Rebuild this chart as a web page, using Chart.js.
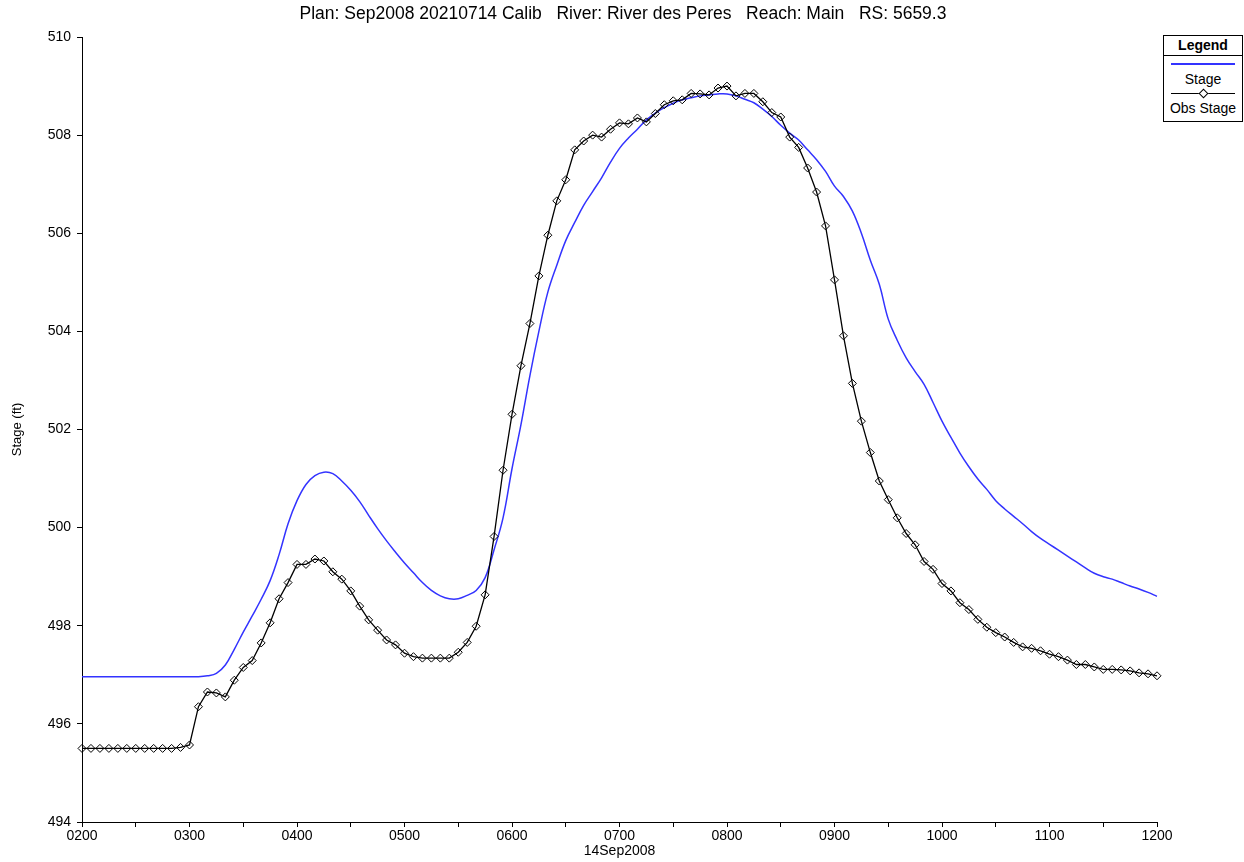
<!DOCTYPE html>
<html>
<head>
<meta charset="utf-8">
<title>Stage - River des Peres</title>
<script src="https://cdn.jsdelivr.net/npm/chart.js@4.4.1/dist/chart.umd.min.js"></script>
<style>
    html, body { margin: 0; padding: 0; background: #fff; }
    #wrap { position: relative; width: 1244px; height: 862px; font-family: "Liberation Sans", Arial, sans-serif; }
    #legendBox { position: absolute; left: 1163px; top: 35px; width: 78px; height: 85px; border: 1px solid #000; background: #fff; }
    #legendBox .hdr { position: absolute; left: 0; top: 1px; width: 78px; text-align: center; font-weight: bold; font-size: 14px; }
    #legendBox .sep { position: absolute; left: 0; top: 19px; width: 78px; border-top: 1px solid #000; }
    #legendBox .swatch { position: absolute; left: 7px; width: 64px; }
    #legendBox .lbl { position: absolute; left: 0; width: 78px; text-align: center; font-size: 14px; }
    #legendBox .dia { position: absolute; left: 36px; width: 5px; height: 5px; border: 1px solid #000; background: #fff; transform: rotate(45deg); }
</style>
</head>
<body>
<div id="wrap">
    <canvas id="stageChart" width="1244" height="862"></canvas>
    <div id="legendBox">
        <div class="hdr">Legend</div>
        <div class="sep"></div>
        <div class="swatch" style="top:27px;border-top:2px solid #3333ff;"></div>
        <div class="lbl" style="top:35px;">Stage</div>
        <div class="swatch" style="top:57px;border-top:1px solid #000;"></div>
        <div class="dia" style="top:54px;"></div>
        <div class="lbl" style="top:64px;">Obs Stage</div>
    </div>
</div>
<script>
const chartTitle = 'Plan: Sep2008 20210714 Calib   River: River des Peres   Reach: Main   RS: 5659.3';
const dateLabel = '14Sep2008';
const hourLabels = ['0200', '0300', '0400', '0500', '0600', '0700', '0800', '0900', '1000', '1100', '1200'];

// 5 minute readings, 0200 -> 1200
const obsStage = [
    495.50, 495.50, 495.50, 495.50, 495.50, 495.50, 495.50, 495.50, 495.50, 495.50, 495.50, 495.52,
    495.57, 496.35, 496.65, 496.63, 496.55, 496.89, 497.15, 497.29, 497.65, 498.06, 498.55, 498.88,
    499.25, 499.25, 499.36, 499.32, 499.10, 498.95, 498.71, 498.40, 498.12, 497.91, 497.71, 497.61,
    497.44, 497.37, 497.34, 497.34, 497.34, 497.34, 497.46, 497.66, 497.99, 498.63, 499.82, 501.17,
    502.31, 503.30, 504.16, 505.13, 505.96, 506.66, 507.09, 507.70, 507.88, 508.00, 507.96, 508.12,
    508.25, 508.23, 508.35, 508.27, 508.44, 508.62, 508.70, 508.72, 508.85, 508.84, 508.82, 508.96,
    509.00, 508.80, 508.85, 508.85, 508.68, 508.46, 508.37, 507.96, 507.75, 507.33, 506.84, 506.15,
    505.05, 503.91, 502.94, 502.17, 501.53, 500.95, 500.57, 500.20, 499.88, 499.65, 499.31, 499.15,
    498.86, 498.71, 498.47, 498.33, 498.13, 497.97, 497.86, 497.77, 497.66, 497.57, 497.54, 497.49,
    497.42, 497.37, 497.30, 497.21, 497.21, 497.16, 497.11, 497.11, 497.10, 497.08, 497.04, 497.02,
    496.98
];

const stage = [
    496.96, 496.96, 496.96, 496.96, 496.96, 496.96, 496.96, 496.96, 496.96, 496.96, 496.96, 496.96,
    496.96, 496.96, 496.98, 497.03, 497.20, 497.52, 497.87, 498.20, 498.54, 498.92, 499.45, 500.08,
    500.55, 500.88, 501.06, 501.13, 501.10, 500.95, 500.76, 500.53, 500.25, 499.98, 499.73, 499.50,
    499.28, 499.08, 498.88, 498.72, 498.61, 498.55, 498.55, 498.62, 498.72, 498.98, 499.55, 500.20,
    501.20, 502.10, 503.10, 504.00, 504.80, 505.35, 505.85, 506.22, 506.57, 506.85, 507.13, 507.45,
    507.73, 507.94, 508.12, 508.31, 508.45, 508.56, 508.65, 508.72, 508.76, 508.80, 508.82, 508.84,
    508.84, 508.80, 508.73, 508.66, 508.53, 508.38, 508.20, 508.04, 507.90, 507.70, 507.50, 507.26,
    506.96, 506.75, 506.45, 506.00, 505.45, 504.96, 504.25, 503.82, 503.46, 503.18, 502.92, 502.55,
    502.17, 501.84, 501.52, 501.24, 500.99, 500.78, 500.55, 500.38, 500.23, 500.08, 499.92, 499.78,
    499.66, 499.54, 499.42, 499.30, 499.18, 499.07, 499.00, 498.95, 498.88, 498.81, 498.75, 498.68,
    498.60
];

// category labels every 5 minutes
const timeLabels = [];
for (let h = 2; h <= 12; h++) {
    for (let m = 0; m < 60; m += 5) {
        if (h === 12 && m > 0) break;
        timeLabels.push(String(h).padStart(2, '0') + String(m).padStart(2, '0'));
    }
}

const fontFam = '"Liberation Sans", Arial, sans-serif';

const titlePlugin = {
    id: 'topTitle',
    afterDraw(chart) {
        const ctx = chart.ctx;
        ctx.save();
        ctx.font = '17.5px ' + fontFam;
        ctx.fillStyle = '#000';
        ctx.textAlign = 'center';
        ctx.textBaseline = 'middle';
        ctx.fillText(chartTitle, 623, 14);
        ctx.restore();
    }
};

new Chart(document.getElementById('stageChart'), {
    type: 'line',
    data: {
        labels: timeLabels,
        datasets: [
            {
                label: 'Stage',
                data: stage,
                borderColor: '#3333ff',
                borderWidth: 1.5,
                pointRadius: 0,
                tension: 0.4,
                order: 2
            },
            {
                label: 'Obs Stage',
                data: obsStage,
                borderColor: '#000',
                borderWidth: 1.3,
                tension: 0,
                pointStyle: 'rectRot',
                pointRadius: 4,
                pointBorderWidth: 1,
                pointBorderColor: '#000',
                pointBackgroundColor: 'rgba(255,255,255,0)',
                order: 1
            }
        ]
    },
    options: {
        responsive: false,
        animation: false,
        layout: { padding: { left: 0, right: 87, top: 37, bottom: 0 } },
        plugins: {
            legend: { display: false },
            tooltip: { enabled: false },
            title: { display: false }
        },
        scales: {
            x: {
                type: 'category',
                offset: false,
                afterFit: s => { s.height = 40; },
                border: { display: true, color: '#000', width: 1 },
                grid: {
                    display: true,
                    drawOnChartArea: false,
                    drawTicks: true,
                    tickLength: 5,
                    color: '#000',
                    tickColor: c => (c.index % 6 === 0 ? '#000' : 'rgba(0,0,0,0)')
                },
                ticks: {
                    autoSkip: false,
                    maxRotation: 0,
                    padding: 1,
                    color: '#000',
                    font: { family: fontFam, size: 14 },
                    callback: (v, i) => (i % 12 === 0 ? hourLabels[i / 12] : '')
                },
                title: {
                    display: true,
                    text: dateLabel,
                    color: '#000',
                    font: { family: fontFam, size: 14 },
                    padding: { top: 0, bottom: 2 }
                }
            },
            y: {
                min: 494,
                max: 510,
                afterFit: s => { s.width = 82; },
                border: { display: true, color: '#000', width: 1 },
                grid: {
                    display: true,
                    drawOnChartArea: false,
                    drawTicks: true,
                    tickLength: 5,
                    color: '#000'
                },
                ticks: {
                    stepSize: 2,
                    padding: 6,
                    color: '#000',
                    font: { family: fontFam, size: 14 }
                },
                title: {
                    display: true,
                    text: 'Stage (ft)',
                    color: '#000',
                    font: { family: fontFam, size: 13 },
                    padding: { top: 10 }
                }
            }
        }
    },
    plugins: [titlePlugin]
});
</script>
</body>
</html>
